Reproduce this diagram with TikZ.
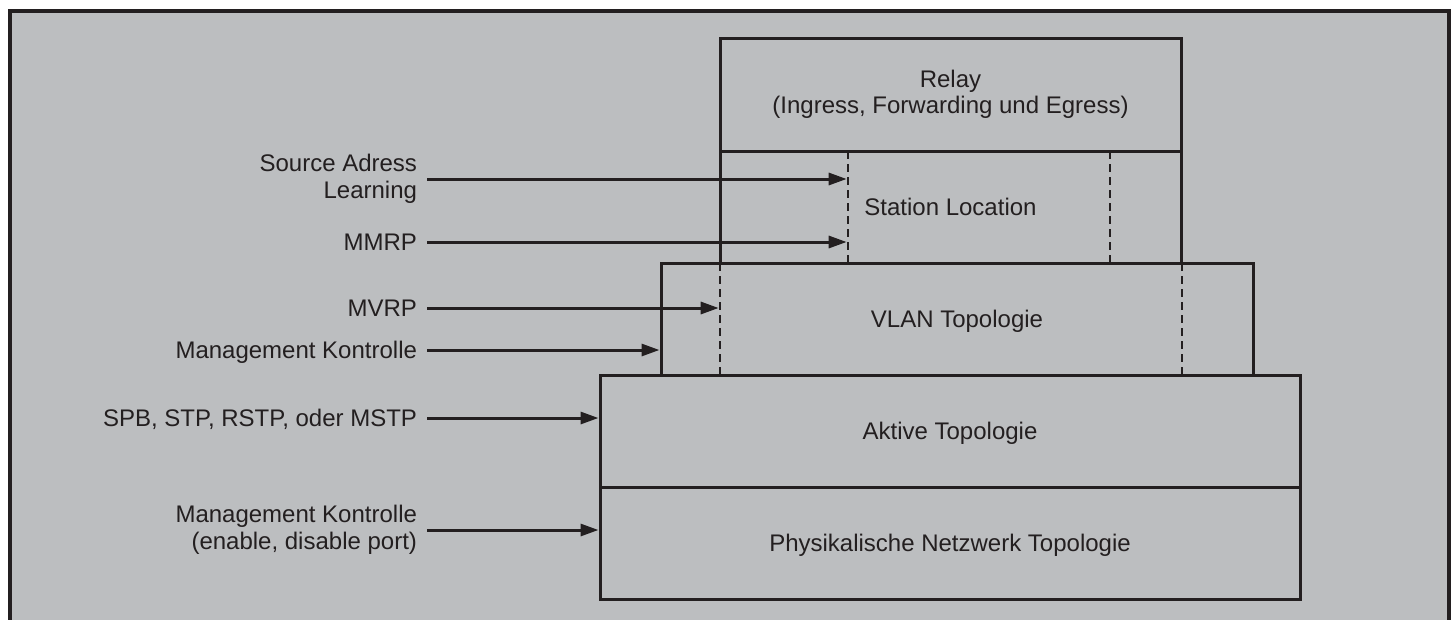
\documentclass[tikz,border=0pt]{standalone}
\usepackage{fontspec}
\setmainfont{Liberation Sans}
\usetikzlibrary{arrows.meta}
\definecolor{panel}{HTML}{BCBEC0}
\definecolor{ink}{HTML}{231F20}
\tikzset{
  layer/.style={draw=ink, line width=3pt, inner sep=0pt, text=ink, align=center,
    font=\fontsize{24}{25.5}\selectfont},
  capline/.style={text height=17.2pt, text depth=0pt},
  divider/.style={draw=ink, line width=2.6pt, dash pattern=on 8pt off 5pt},
  lbl/.style={anchor=east, inner sep=0pt, outer sep=0pt, text=ink, align=right,
    font=\fontsize{24}{27}\selectfont},
  feed/.style={draw=ink, line width=3pt, -{Triangle[length=18pt,width=12pt]}},
}
\begin{document}
\begin{tikzpicture}[x=1pt,y=-1pt]
\useasboundingbox (0,0) rectangle (1452,619);
\clip (0,0) rectangle (1452,619);
\fill[white] (0,0) rectangle (1452,619);
% panel frame, open at the bottom edge
\draw[draw=ink, fill=panel, line width=3.2pt] (10,11) rectangle (1449,660);

% stacked layers
\node[layer, minimum width=461pt, minimum height=113pt] (relay) at (950.5,94.5)
  {Relay\\(Ingress, Forwarding und Egress)};
\node[layer, capline, minimum width=461pt, minimum height=112pt] (station) at (950.5,207)
  {Station Location};
\node[layer, capline, minimum width=592pt, minimum height=112pt] (vlan) at (957,319)
  {VLAN Topologie};
\node[layer, capline, minimum width=700pt, minimum height=112pt] (active) at (950,431)
  {Aktive Topologie};
\node[layer, capline, minimum width=700pt, minimum height=112pt] (phys) at (950,543)
  {Physikalische Netzwerk Topologie};

% dashed separators inside the layers
\draw[divider] (848,151) -- (848,263);
\draw[divider] (1110,151) -- (1110,263);
\draw[divider] (720,263) -- (720,375);
\draw[divider] (1182,263) -- (1182,375);
\coordinate (slot) at (846.7,0);
\coordinate (vslot) at (718.7,0);

% inputs on the left
\node[lbl] (sal) at (417,179) {Source Adress\\Learning};
\node[lbl, capline] (mmrp) at (417,242) {MMRP};
\node[lbl, capline] (mvrp) at (417,308) {MVRP};
\node[lbl, capline] (mk1) at (417,350) {Management Kontrolle};
\node[lbl, capline] (spb) at (417,418) {SPB, STP, RSTP, oder MSTP};
\node[lbl] (mk2) at (417,530) {Management Kontrolle\\(enable, disable port)};

\draw[feed] ([xshift=10pt]sal.east) -- (sal.east -| slot);
\draw[feed] ([xshift=10pt]mmrp.east) -- (mmrp.east -| slot);
\draw[feed] ([xshift=10pt]mvrp.east) -- (mvrp.east -| vslot);
\draw[feed] ([xshift=10pt]mk1.east) -- (mk1.east -| vlan.west);
\draw[feed] ([xshift=10pt]spb.east) -- (spb.east -| active.west);
\draw[feed] ([xshift=10pt]mk2.east) -- (mk2.east -| phys.west);
\end{tikzpicture}
\end{document}
